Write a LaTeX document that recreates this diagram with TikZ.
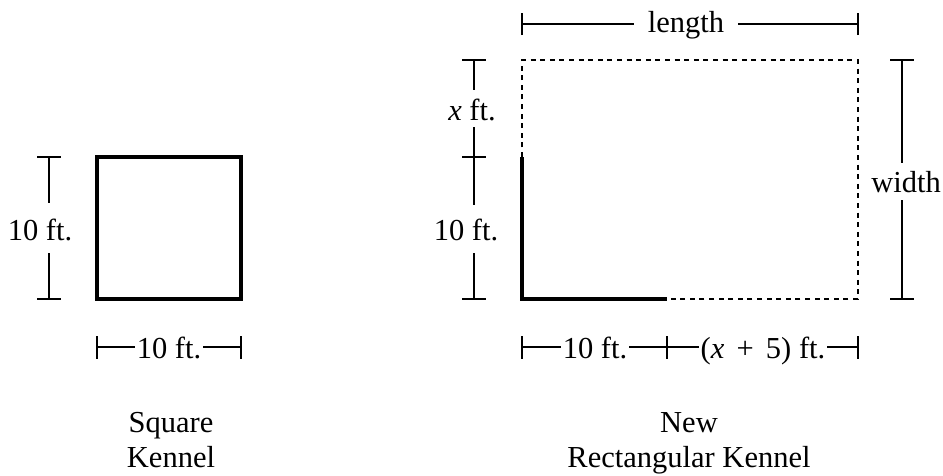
\documentclass[tikz,border=0pt]{standalone}
\usepackage{fontspec}
\setmainfont{Liberation Serif}
\begin{document}
\begin{tikzpicture}[x=1pt,y=-1pt,
  dim/.style={line width=1.8pt},
  wall/.style={line width=3.8pt, line join=miter},
  dashwall/.style={line width=2.8pt, dash pattern=on 5pt off 4.6pt},
  lbl/.style={font=\fontsize{30.5}{34}\selectfont, inner xsep=2pt, inner ysep=0pt, anchor=base}]
\useasboundingbox (0,0) rectangle (943,475);

% ---------- square kennel ----------
\coordinate (sqTL) at (97,157);
\coordinate (sqBR) at (241,299);
\draw[wall] (sqTL) rectangle (sqBR);

% left height dimension
\coordinate (shT) at (49,157);
\coordinate (shT2) at (49,203);
\coordinate (shB2) at (49,253);
\coordinate (shB) at (49,299);
\node[lbl] (sqhl) at (40,240) {10 ft.};
\draw[dim] (shT) -- (shT2);
\draw[dim] (shB2) -- (shB);
\draw[dim] ([xshift=-12pt]shT) -- ([xshift=12pt]shT);
\draw[dim] ([xshift=-12pt]shB) -- ([xshift=12pt]shB);

% bottom width dimension
\coordinate (swL) at (97,347);
\coordinate (swR) at (241,347);
\node[lbl] (sqwl) at (169,358) {10 ft.};
\draw[dim] (swL) -- (swL -| sqwl.west);
\draw[dim] (sqwl.east |- swR) -- (swR);
\draw[dim] ([yshift=-11.5pt]swL) -- ([yshift=11.5pt]swL);
\draw[dim] ([yshift=-11.5pt]swR) -- ([yshift=11.5pt]swR);

% captions
\node[lbl] (cap1a) at (171,432) {Square};
\node[lbl] (cap1b) at (171,467) {Kennel};

% ---------- rectangular kennel ----------
\coordinate (rTL) at (522,60);
\coordinate (rTR) at (858,60);
\coordinate (rBR) at (858,299);
\coordinate (rBL) at (522,299);
\coordinate (rML) at (522,157);
\coordinate (rMB) at (667,299);
\draw[dashwall] (rML) -- (rTL) -- (rTR) -- (rBR) -- (rMB);
\draw[wall] (rML) -- (rBL) -- (rMB);

% length dimension
\coordinate (lL) at (522,24);
\coordinate (lR) at (858,24);
\node[lbl, inner xsep=14pt] (lenl) at (686,32) {length};
\draw[dim] (lL) -- (lL -| lenl.west);
\draw[dim] (lenl.east |- lR) -- (lR);
\draw[dim] ([yshift=-11pt]lL) -- ([yshift=11pt]lL);
\draw[dim] ([yshift=-11pt]lR) -- ([yshift=11pt]lR);

% left dimensions (x ft. and 10 ft.)
\coordinate (xT) at (474,60);
\coordinate (xT2) at (474,90);
\coordinate (xM1) at (474,127);
\coordinate (xM) at (474,157);
\coordinate (xM2) at (474,205);
\coordinate (xB2) at (474,253);
\coordinate (xB) at (474,299);
\node[lbl] (xl) at (472,120) {\textit{x} ft.};
\node[lbl] (rtl) at (466,240) {10 ft.};
\draw[dim] (xT) -- (xT2);
\draw[dim] (xM1) -- (xM2);
\draw[dim] (xB2) -- (xB);
\draw[dim] ([xshift=-12pt]xT) -- ([xshift=12pt]xT);
\draw[dim] ([xshift=-12pt]xM) -- ([xshift=12pt]xM);
\draw[dim] ([xshift=-12pt]xB) -- ([xshift=12pt]xB);

% width dimension
\coordinate (wT) at (902,60);
\coordinate (wT2) at (902,163);
\coordinate (wB2) at (902,200);
\coordinate (wB) at (902,299);
\node[lbl] (wdl) at (906,192) {width};
\draw[dim] (wT) -- (wT2);
\draw[dim] (wB2) -- (wB);
\draw[dim] ([xshift=-12pt]wT) -- ([xshift=12pt]wT);
\draw[dim] ([xshift=-12pt]wB) -- ([xshift=12pt]wB);

% bottom dimensions
\coordinate (bL) at (522,347);
\coordinate (bM) at (667,347);
\coordinate (bR) at (858,347);
\node[lbl] (b10) at (595,358) {10 ft.};
\node[lbl] (bx5) at (763,358) {(\textit{x}\hspace{0.4em}+\hspace{0.4em}5) ft.};
\draw[dim] (bL) -- (bL -| b10.west);
\draw[dim] (b10.east |- bM) -- (bx5.west |- bM);
\draw[dim] (bx5.east |- bR) -- (bR);
\draw[dim] ([yshift=-11.5pt]bL) -- ([yshift=11.5pt]bL);
\draw[dim] ([yshift=-11.5pt]bM) -- ([yshift=11.5pt]bM);
\draw[dim] ([yshift=-11.5pt]bR) -- ([yshift=11.5pt]bR);

% captions
\node[lbl] (cap2a) at (689,432) {New};
\node[lbl] (cap2b) at (689,467) {Rectangular Kennel};
\end{tikzpicture}
\end{document}
